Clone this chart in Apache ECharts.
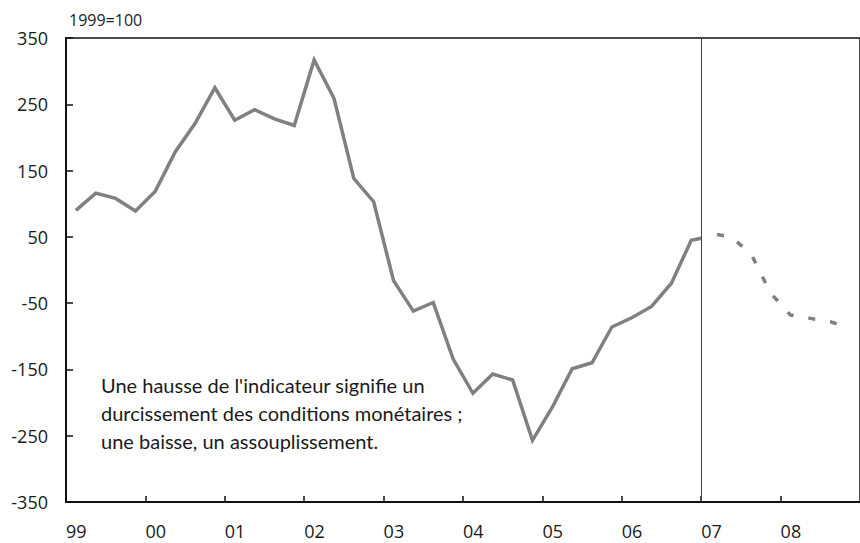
<!DOCTYPE html>
<html>
<head>
<meta charset="utf-8">
<script src="https://cdn.jsdelivr.net/npm/echarts@6/dist/echarts.min.js"></script>
<style>
  html, body { margin: 0; padding: 0; background: #fff; }
  #chart { width: 860px; height: 543px; }
</style>
</head>
<body>
<div id="chart"></div>
<script>
// ---- Data ----
const solidPeriods = [
  '1999-T1','1999-T2','1999-T3','1999-T4',
  '2000-T1','2000-T2','2000-T3','2000-T4',
  '2001-T1','2001-T2','2001-T3','2001-T4',
  '2002-T1','2002-T2','2002-T3','2002-T4',
  '2003-T1','2003-T2','2003-T3','2003-T4',
  '2004-T1','2004-T2','2004-T3','2004-T4',
  '2005-T1','2005-T2','2005-T3','2005-T4',
  '2006-T1','2006-T2','2006-T3','2006-T4',
  '2007-start'
];
const solidValues = [
  90, 116, 108, 89,
  119, 178, 221, 275,
  226, 242, 228, 218,
  317, 259, 138, 103,
  -16, -62, -49, -134,
  -186, -157, -166, -257,
  -207, -149, -140, -86,
  -72, -55, -20, 45,
  48
];
const forecastPeriods = [
  '2007-T1','2007-T2','2007-T3','2007-T4',
  '2008-T1','2008-T2','2008-T3','2008-T4'
];
const forecastValues = [55, 50, 25, -35, -68, -73, -78, -88];

const xTickLabels = ['99','00','01','02','03','04','05','06','07','08'];
const yTickValues = [-350, -250, -150, -50, 50, 150, 250, 350];
const unitLabel = '1999=100';
const noteText = "Une hausse de l'indicateur signifie un\ndurcissement des conditions monétaires ;\nune baisse, un assouplissement.";
const forecastStart = 2007;

// period label -> position on a continuous time axis (quarter mid-points)
function periodPos(p) {
  const parts = p.split('-');
  const y = parseInt(parts[0], 10);
  if (parts[1] === 'start') return y;
  const q = parseInt(parts[1].slice(1), 10);
  return y + (q - 0.5) / 4;
}
const solidData = solidPeriods.map((p, i) => [periodPos(p), solidValues[i]]);
const forecastData = forecastPeriods.map((p, i) => [periodPos(p), forecastValues[i]]);

const chart = echarts.init(document.getElementById('chart'), null, { renderer: 'svg' });
const tickFont = { fontFamily: 'Open Sans', fontSize: 18, color: '#1a1a1a' };

chart.setOption({
  animation: false,
  backgroundColor: '#ffffff',
  title: {
    text: unitLabel,
    left: 64, top: 7,
    textStyle: { fontFamily: 'Open Sans', fontSize: 16, fontWeight: 'normal', color: '#222' }
  },
  grid: {
    left: 66, right: -3, top: 38, bottom: 41,
    show: true, borderColor: '#111', borderWidth: 1.5, backgroundColor: 'transparent'
  },
  xAxis: {
    type: 'value',
    min: 1999, max: 2009, interval: 1,
    splitLine: { show: false },
    axisLine: { show: true, onZero: false, lineStyle: { color: '#111', width: 2 } },
    axisTick: { show: true, inside: true, length: 6, lineStyle: { color: '#111', width: 1.5 } },
    axisLabel: Object.assign({
      margin: 20,
      align: 'left',
      showMaxLabel: false,
      formatter: function (v) {
        const i = Math.round(v - 1999);
        return xTickLabels[i] !== undefined ? xTickLabels[i] : '';
      }
    }, tickFont)
  },
  yAxis: {
    type: 'value',
    min: -350, max: 350,
    splitLine: { show: false },
    axisLine: { show: true, onZero: false, lineStyle: { color: '#111', width: 2 } },
    axisTick: { show: true, inside: true, length: 7, customValues: yTickValues, lineStyle: { color: '#111', width: 1.5 } },
    axisLabel: Object.assign({ margin: 18, customValues: yTickValues }, tickFont)
  },
  graphic: [{
    type: 'text',
    left: 101, top: 371,
    style: {
      text: noteText,
      fontFamily: 'Lato', fontSize: 20, lineHeight: 28, fill: '#1a1a1a'
    }
  }],
  series: [
    {
      type: 'line',
      data: solidData,
      showSymbol: false,
      lineStyle: { color: '#808080', width: 3.5, join: 'miter' },
      markLine: {
        silent: true,
        symbol: 'none',
        label: { show: false },
        lineStyle: { color: '#444', width: 1, type: 'solid' },
        data: [{ xAxis: forecastStart }]
      }
    },
    {
      type: 'line',
      data: forecastData,
      showSymbol: false,
      lineStyle: { color: '#808080', width: 3.5, cap: 'butt', type: [7, 15], dashOffset: 16 }
    }
  ]
});
</script>
</body>
</html>
